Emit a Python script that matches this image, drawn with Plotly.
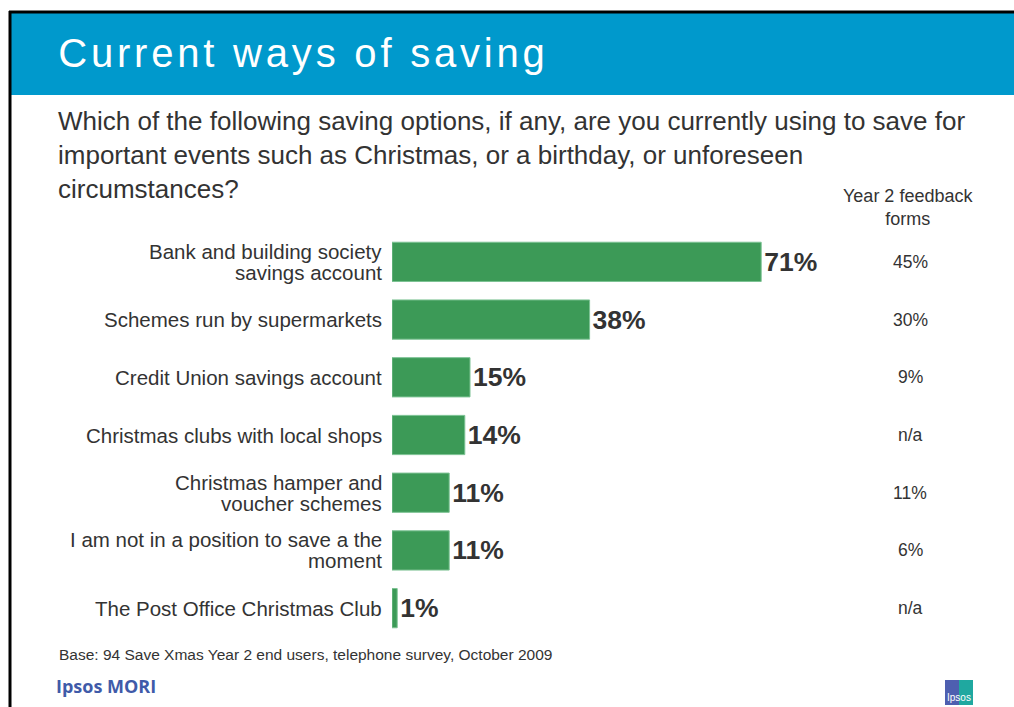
import plotly.graph_objects as go

# Survey results: share of respondents using each saving option
categories = [
    "Bank and building society<br>savings account",
    "Schemes run by supermarkets",
    "Credit Union savings account",
    "Christmas clubs with local shops",
    "Christmas hamper and<br>voucher schemes",
    "I am not in a position to save a the<br>moment",
    "The Post Office Christmas Club",
]
values = [71, 38, 15, 14, 11, 11, 1]
year2_feedback = ["45%", "30%", "9%", "n/a", "11%", "6%", "n/a"]

W, H = 1014, 707
ML, MR, MT, MB = 392, 102, 233, 70
PW, PH = W - ML - MR, H - MT - MB


def px(x):
    return (x - ML) / PW


def py(y):
    return (H - MB - y) / PH


GREEN = "#3C9A57"
TEXT = "#333333"
FONT = "Liberation Sans, Arial, sans-serif"

fig = go.Figure(
    go.Bar(
        x=values,
        y=categories,
        orientation="h",
        marker=dict(color=GREEN, line=dict(color="#7CC293", width=1)),
        texttemplate="%{x}%",
        textposition="outside",
        textfont=dict(family=FONT, size=26.5, color=TEXT, weight="bold"),
        cliponaxis=False,
        width=0.68,
        hoverinfo="skip",
    )
)

shapes = [
    # header band
    dict(type="rect", xref="paper", yref="paper", x0=px(11), x1=px(1014), y0=py(95), y1=py(13),
         fillcolor="#0099CC", line=dict(width=0), layer="below"),
    # frame lines
    dict(type="line", xref="paper", yref="paper", x0=px(9), x1=px(1014), y0=py(12), y1=py(12),
         line=dict(color="black", width=3)),
    dict(type="line", xref="paper", yref="paper", x0=px(10), x1=px(10), y0=py(11), y1=py(707),
         line=dict(color="black", width=3)),
    # Ipsos logo blocks
    dict(type="rect", xref="paper", yref="paper", x0=px(945), x1=px(959), y0=py(705), y1=py(680),
         fillcolor="#4E5FB0", line=dict(width=0)),
    dict(type="rect", xref="paper", yref="paper", x0=px(959), x1=px(973), y0=py(705), y1=py(680),
         fillcolor="#1FA8A0", line=dict(width=0)),
]

annotations = [
    # the title is letter-spaced after render, which widens it around its centre,
    # so its anchor sits right by half of the added width
    dict(text="Current ways of saving", xref="paper", yref="paper", x=px(98), y=py(53),
         xanchor="left", yanchor="middle", showarrow=False,
         font=dict(family=FONT, size=40, color="white")),
    dict(text="Which of the following saving options, if any, are you currently using to save for<br>"
              "important events such as Christmas, or a birthday, or unforeseen<br>circumstances?",
         xref="paper", yref="paper", x=px(56), y=py(104), xanchor="left", yanchor="top",
         align="left", showarrow=False, font=dict(family=FONT, size=26, color=TEXT)),
    dict(text="Year 2 feedback<br>forms", xref="paper", yref="paper", x=px(908), y=py(208),
         xanchor="center", yanchor="middle", align="center", showarrow=False,
         font=dict(family=FONT, size=18, color=TEXT)),
    dict(text="Base: 94 Save Xmas Year 2 end users, telephone survey, October 2009",
         xref="paper", yref="paper", x=px(57), y=py(654), xanchor="left", yanchor="middle",
         showarrow=False, font=dict(family=FONT, size=15.5, color=TEXT)),
    dict(text="<b>Ipsos MORI</b>", xref="paper", yref="paper", x=px(54), y=py(686),
         xanchor="left", yanchor="middle", showarrow=False,
         font=dict(family="Open Sans, sans-serif", size=18, color="#3F5BA9")),
    dict(text="Ipsos", xref="paper", yref="paper", x=px(959), y=py(697),
         xanchor="center", yanchor="middle", showarrow=False,
         font=dict(family=FONT, size=10, color="white")),
]

# category labels, one annotation per line for tight line spacing
LINE_PITCH = 21
for cat in categories:
    lines = cat.split("<br>")
    n = len(lines)
    for i, line in enumerate(lines):
        annotations.append(
            dict(text=line, xref="paper", yref="y", x=0, y=cat, xanchor="right",
                 yanchor="middle", xshift=-8, yshift=((n - 1) / 2 - i) * LINE_PITCH,
                 showarrow=False, font=dict(family=FONT, size=20.5, color=TEXT))
        )

# Year 2 feedback-form column
for cat, fb in zip(categories, year2_feedback):
    annotations.append(
        dict(text=fb, xref="paper", yref="y", x=px(910), y=cat, xanchor="center",
             yanchor="middle", showarrow=False, font=dict(family=FONT, size=17.5, color=TEXT))
    )

fig.update_layout(
    width=W,
    height=H,
    margin=dict(l=ML, r=MR, t=MT, b=MB, pad=0),
    paper_bgcolor="white",
    plot_bgcolor="white",
    showlegend=False,
    xaxis=dict(range=[0, 100], visible=False, fixedrange=True),
    yaxis=dict(
        autorange="reversed",
        showgrid=False,
        zeroline=False,
        showline=False,
        ticks="",
        showticklabels=False,
        fixedrange=True,
    ),
    shapes=shapes,
    annotations=annotations,
)

# widen the title's character spacing
post = """
var t = document.querySelector('g.annotation[data-index="0"] text');
if (t) { t.style.letterSpacing = '3.8px'; }
"""

fig.write_html("out.html", post_script=post)
